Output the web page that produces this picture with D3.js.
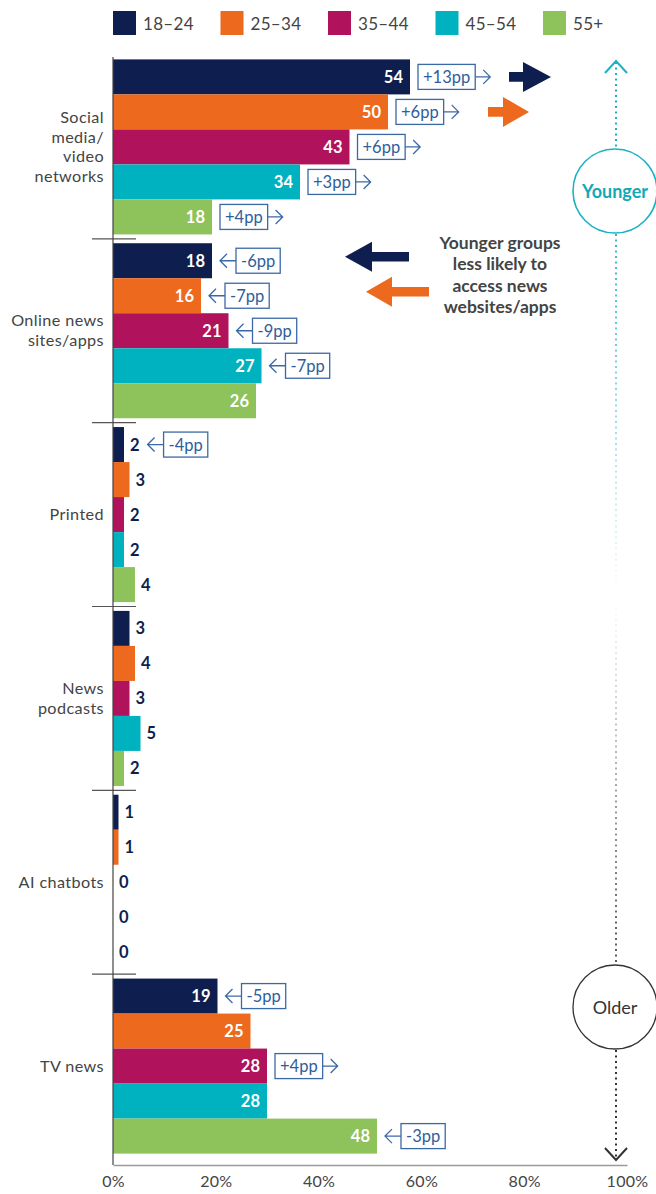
<!DOCTYPE html>
<html>
<head>
<meta charset="utf-8">
<script src="https://cdn.jsdelivr.net/npm/d3@7"></script>
<style>
  body { margin: 0; background: #fff; }
  text { font-family: Lato, "Noto Sans", sans-serif; }
</style>
</head>
<body>
<script>
// Data
var categories = ["Social media/video networks", "Online news sites/apps", "Printed", "News podcasts", "AI chatbots", "TV news"];
var categoryLines = [["Social", "media/", "video", "networks"], ["Online news", "sites/apps"], ["Printed"], ["News", "podcasts"], ["AI chatbots"], ["TV news"]];
var ages = ["18–24", "25–34", "35–44", "45–54", "55+"];
var ageColors = ["#0e1f4f", "#ec691d", "#b0125b", "#00b2bf", "#8ec25b"];

var values1824 = [54, 18, 2, 3, 1, 19];
var values2534 = [50, 16, 3, 4, 1, 25];
var values3544 = [43, 21, 2, 3, 0, 28];
var values4554 = [34, 27, 2, 5, 0, 28];
var values55 = [18, 26, 4, 2, 0, 48];

var change1824 = [13, -6, -4, null, null, -5];
var change2534 = [6, -7, null, null, null, null];
var change3544 = [6, -9, null, null, null, 4];
var change4554 = [3, -7, null, null, null, null];
var change55 = [4, null, null, null, null, -3];

var tickValues = [0, 20, 40, 60, 80, 100];

//Settings
var width = 656;
var height = 1194;
var axisX = 113;
var axisBottom = 1165;
var boxColor = "#3b69a6";
var textGrey = "#444444";

var seriesValues = [values1824, values2534, values3544, values4554, values55];
var seriesChanges = [change1824, change2534, change3544, change4554, change55];

var rows = [];
categories.forEach(function(cat, ci)
{
    ages.forEach(function(age, ai)
    {
        rows.push({category: cat, age: age, ai: ai, value: seriesValues[ai][ci], change: seriesChanges[ai][ci]});
    });
});

//Scales
var y0 = d3.scaleBand().domain(categories).range([55, 1158]);
var y1 = d3.scaleBand().domain(ages).range([4.4, y0.bandwidth() - 4.4]);
var xBar = d3.scaleLinear().domain([0, 100]).range([axisX, axisX + 550]);
var xAxis = d3.scaleLinear().domain([0, 100]).range([axisX, 627]);
var color = d3.scaleOrdinal().domain(ages).range(ageColors);

var svg = d3.select("body").append("svg").attr("width", width).attr("height", height);

//Legend
var legend = svg.append("g");
ages.forEach(function(age, i)
{
    var lg = legend.append("g").attr("transform", "translate(" + (113 + i * 107.5) + ", 11)");
    lg.append("rect").attr("width", 23).attr("height", 24).attr("fill", color(age));
    lg.append("text").attr("x", 30).attr("y", 12).attr("dominant-baseline", "central")
        .attr("font-size", 17).attr("letter-spacing", 0.3).attr("fill", textGrey).text(age);
});

//Bars
var barG = svg.append("g");
var bars = barG.selectAll("g.bar").data(rows).enter().append("g").attr("class", "bar")
    .attr("transform", function(d) { return "translate(0," + (y0(d.category) + y1(d.age)) + ")"; });

bars.append("rect")
    .attr("x", xBar(0))
    .attr("width", function(d) { return xBar(d.value) - xBar(0); })
    .attr("height", y1.bandwidth())
    .attr("fill", function(d) { return color(d.age); });

var bh = y1.bandwidth();
bars.append("text")
    .attr("class", "val")
    .attr("x", function(d) { return d.value > 10 ? xBar(d.value) - 7 : xBar(d.value) + 6; })
    .attr("y", bh / 2)
    .attr("dominant-baseline", "central")
    .attr("text-anchor", function(d) { return d.value > 10 ? "end" : "start"; })
    .attr("font-size", 16.5)
    .attr("font-weight", 700)
    .attr("fill", function(d) { return d.value > 10 ? "#ffffff" : "#0e1f4f"; })
    .text(function(d) { return d.value; });

//Change boxes
bars.filter(function(d) { return d.change !== null; }).each(function(d)
{
    var g = d3.select(this);
    var anchor = xBar(d.value) + 8;
    if(d.value <= 10)
    {
        var lbl = g.select("text.val").node();
        anchor = xBar(d.value) + 6 + lbl.getComputedTextLength() + 8;
    }
    var cy = bh / 2;
    var label = (d.change > 0 ? "+" : "") + d.change + "pp";
    var boxX = d.change > 0 ? anchor : anchor + 16;
    var t = g.append("text").attr("x", boxX + 5).attr("y", cy).attr("dominant-baseline", "central")
        .attr("font-size", 16.5).attr("fill", "#2f5e9c").text(label);
    var tw = t.node().getComputedTextLength();
    var boxW = tw + 10;
    g.insert("rect", "text:last-child").attr("x", boxX).attr("y", cy - 12.5).attr("width", boxW).attr("height", 25)
        .attr("fill", "#fff").attr("stroke", boxColor).attr("stroke-width", 1.3);
    var p;
    if(d.change > 0)
    {
        var bx = boxX + boxW;
        p = "M" + bx + "," + cy + "H" + (bx + 15) + "M" + (bx + 8) + "," + (cy - 7) + "L" + (bx + 15) + "," + cy + "L" + (bx + 8) + "," + (cy + 7);
    }
    else
    {
        p = "M" + (anchor + 16) + "," + cy + "H" + anchor + "M" + (anchor + 7) + "," + (cy - 7) + "L" + anchor + "," + cy + "L" + (anchor + 7) + "," + (cy + 7);
    }
    g.append("path").attr("d", p).attr("fill", "none").attr("stroke", boxColor).attr("stroke-width", 1.3);
});

//Category labels
categories.forEach(function(cat, ci)
{
    var lines = categoryLines[ci];
    var cy = y0(cat) + y0.bandwidth() / 2 - 1;
    var lh = 19.6;
    lines.forEach(function(line, li)
    {
        svg.append("text").attr("text-anchor", "end").attr("font-size", 16.2).attr("letter-spacing", 0.4).attr("fill", textGrey)
            .attr("x", 104).attr("y", cy + (li - (lines.length - 1) / 2) * lh)
            .attr("dominant-baseline", "central").text(line);
    });
});

//Separators
categories.slice(1).forEach(function(cat)
{
    var sy = y0(cat);
    svg.append("line").attr("x1", 92).attr("x2", 136).attr("y1", sy).attr("y2", sy)
        .attr("stroke", "#555").attr("stroke-width", 1.2);
});

//Axes
var axis = svg.append("g").attr("transform", "translate(0," + axisBottom + ")")
    .call(d3.axisBottom(xAxis).tickValues(tickValues).tickFormat(function(d) { return d + "%"; }).tickSize(0).tickPadding(11));
axis.select(".domain").attr("stroke", "#9a9a9a").attr("stroke-width", 1.6);
axis.selectAll("text").attr("font-size", 16).attr("letter-spacing", 0.3).attr("fill", textGrey).attr("font-family", "Lato, sans-serif");

svg.append("line").attr("x1", axisX).attr("x2", axisX).attr("y1", 57).attr("y2", axisBottom)
    .attr("stroke", "#444").attr("stroke-width", 1.2);

//Big arrows
function bigArrow(x0, x1, xTip, cy, fill)
{
    svg.append("path").attr("d", "M" + x0 + "," + (cy - 4.8) + "H" + x1 + "V" + (cy - 15) + "L" + xTip + "," + cy + "L" + x1 + "," + (cy + 15) + "V" + (cy + 4.8) + "H" + x0 + "Z").attr("fill", fill);
}
var socialY = y0(categories[0]);
var onlineY = y0(categories[1]);
bigArrow(509, 523, 551, socialY + y1(ages[0]) + bh / 2, ageColors[0]);
bigArrow(488, 503, 529, socialY + y1(ages[1]) + bh / 2, ageColors[1]);
bigArrow(409, 372, 345, onlineY + y1(ages[0]) + bh / 2 - 4, ageColors[0]);
bigArrow(429, 392, 366, onlineY + y1(ages[1]) + bh / 2 - 4, ageColors[1]);

["Younger groups", "less likely to", "access news", "websites/apps"].forEach(function(line, i)
{
    svg.append("text").attr("text-anchor", "middle").attr("font-size", 17.5).attr("font-weight", 700).attr("fill", textGrey)
        .attr("x", 500).attr("y", 242 + i * 21.5).attr("dominant-baseline", "central").text(line);
});

//Younger / Older scale
var defs = svg.append("defs");
var grad = defs.append("linearGradient").attr("id", "fade").attr("gradientUnits", "userSpaceOnUse")
    .attr("x1", 0).attr("x2", 0).attr("y1", 233).attr("y2", 965);
grad.append("stop").attr("offset", "0").attr("stop-color", "#1ab3bf").attr("stop-opacity", 0.9);
grad.append("stop").attr("offset", "0.5").attr("stop-color", "#1ab3bf").attr("stop-opacity", 0);
grad.append("stop").attr("offset", "0.5").attr("stop-color", "#555").attr("stop-opacity", 0);
grad.append("stop").attr("offset", "1").attr("stop-color", "#555").attr("stop-opacity", 1);

var sx = 616;
svg.append("line").attr("x1", sx).attr("x2", sx).attr("y1", 62).attr("y2", 150)
    .attr("stroke", "#1ab3bf").attr("stroke-width", 2).attr("stroke-dasharray", "2 3.5");
svg.append("path").attr("d", "M605,73L616,61L627,73").attr("fill", "none").attr("stroke", "#1ab3bf").attr("stroke-width", 2);
svg.append("line").attr("x1", sx).attr("x2", sx).attr("y1", 234).attr("y2", 965)
    .attr("stroke", "url(#fade)").attr("stroke-width", 2).attr("stroke-dasharray", "2 3.5");
svg.append("line").attr("x1", sx).attr("x2", sx).attr("y1", 1050).attr("y2", 1158)
    .attr("stroke", "#333").attr("stroke-width", 2).attr("stroke-dasharray", "2 3.5");
svg.append("path").attr("d", "M605,1148L616,1160L627,1148").attr("fill", "none").attr("stroke", "#333").attr("stroke-width", 2);

svg.append("circle").attr("cx", 615).attr("cy", 191).attr("r", 42).attr("fill", "#fff").attr("stroke", "#1ab3bf").attr("stroke-width", 1.6);
svg.append("text").attr("x", 615).attr("y", 191).attr("text-anchor", "middle").attr("dominant-baseline", "central")
    .attr("font-size", 18).attr("font-weight", 700).attr("fill", "#12a9b7").text("Younger");
svg.append("circle").attr("cx", 615).attr("cy", 1007).attr("r", 42).attr("fill", "#fff").attr("stroke", "#333").attr("stroke-width", 1.3);
svg.append("text").attr("x", 615).attr("y", 1007).attr("text-anchor", "middle").attr("dominant-baseline", "central")
    .attr("font-size", 18).attr("fill", "#333").text("Older");
</script>
</body>
</html>
